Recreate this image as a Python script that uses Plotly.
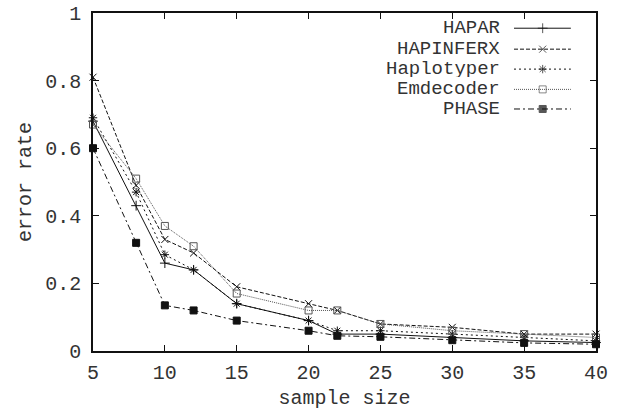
import plotly.graph_objects as go

sample_size = [5, 8, 10, 12, 15, 20, 22, 25, 30, 35, 40]
hapar      = [0.68, 0.43, 0.26, 0.24, 0.14, 0.09, 0.05, 0.05, 0.04, 0.03, 0.025]
hapinferx  = [0.81, 0.49, 0.33, 0.29, 0.19, 0.14, 0.12, 0.08, 0.07, 0.05, 0.05]
haplotyper = [0.69, 0.47, 0.285, 0.24, 0.14, 0.09, 0.06, 0.06, 0.05, 0.04, 0.03]
emdecoder  = [0.67, 0.51, 0.37, 0.31, 0.17, 0.12, 0.12, 0.08, 0.06, 0.05, 0.04]
phase      = [0.60, 0.32, 0.135, 0.12, 0.09, 0.06, 0.045, 0.042, 0.032, 0.024, 0.02]

series_names = ["HAPAR", "HAPINFERX", "Haplotyper", "Emdecoder", "PHASE"]
series_vals = [hapar, hapinferx, haplotyper, emdecoder, phase]

x_ticks = [5, 10, 15, 20, 25, 30, 35, 40]
y_ticks = [0, 0.2, 0.4, 0.6, 0.8, 1]
y_tick_labels = ["0", "0.2", "0.4", "0.6", "0.8", "1"]

styles = [
    dict(dash="solid", color="#111111", symbol="cross-thin-open", size=7),
    dict(dash="4px,2px", color="#111111", symbol="x-thin-open", size=7),
    dict(dash="2px,3px", color="#111111", symbol="asterisk-open", size=7),
    dict(dash="1px,1px", color="#555555", symbol="square-open", size=7),
    dict(dash="6px,3px,2px,3px", color="#111111", symbol="square", size=7),
]

FONT = "'Liberation Mono', 'DejaVu Sans Mono', monospace"
TXT = "#333333"

fig = go.Figure()
for name, vals, st in zip(series_names, series_vals, styles):
    fig.add_trace(go.Scatter(
        x=sample_size, y=vals, name=name, mode="lines+markers",
        line=dict(color=st["color"], width=1, dash=st["dash"]),
        marker=dict(symbol=st["symbol"], size=st["size"], color=st["color"],
                    line=dict(color=st["color"], width=1)),
        showlegend=False, cliponaxis=False,
    ))

# custom gnuplot-style key (text right, sample to the right of text)
key_rows = [0.955, 0.893, 0.834, 0.774, 0.716]
kx0, kxm, kx1, ktext = 0.837, 0.894, 0.950, 0.812
for name, st, ky in zip(series_names, styles, key_rows):
    fig.add_trace(go.Scatter(
        x=[kx0, kxm, kx1], y=[ky, ky, ky], mode="lines+markers",
        xaxis="x2", yaxis="y2", showlegend=False, hoverinfo="skip",
        line=dict(color=st["color"], width=1, dash=st["dash"]),
        marker=dict(symbol=st["symbol"], size=[0, st["size"], 0], color=st["color"],
                    line=dict(color=st["color"], width=1)),
    ))
    fig.add_annotation(x=ktext, y=ky, xref="paper", yref="paper", text=name,
                       showarrow=False, xanchor="right", yanchor="middle",
                       height=16, borderpad=0,
                       font=dict(family=FONT, size=19, color=TXT))

axis_common = dict(
    showline=True, linecolor="#111111", linewidth=1.5, mirror="ticks",
    ticks="inside", ticklen=6, tickwidth=1, tickcolor="#111111",
    showgrid=False, zeroline=False, automargin=False, ticklabeloverflow="allow",
    tickfont=dict(family=FONT, size=20, color=TXT),
    title_font=dict(family=FONT, size=20, color=TXT),
)

fig.update_layout(
    width=619, height=415,
    margin=dict(l=93, r=23, t=13, b=64, autoexpand=False),
    paper_bgcolor="white", plot_bgcolor="white",
    xaxis=dict(range=[5, 40], tickvals=x_ticks, title=dict(text="sample size", standoff=6),
               ticklabelstandoff=2, **axis_common),
    yaxis=dict(range=[0, 1], tickvals=y_ticks, ticktext=y_tick_labels,
               title=dict(text="error rate", standoff=8), ticklabelstandoff=6, **axis_common),
    xaxis2=dict(range=[0, 1], overlaying="x", visible=False, fixedrange=True),
    yaxis2=dict(range=[0, 1], overlaying="y", visible=False, fixedrange=True),
)

# remove the page's default 8px body margin so the figure fills the window
fig.write_html("out.html", config={"displayModeBar": False},
               post_script="document.body.style.margin='0';")
